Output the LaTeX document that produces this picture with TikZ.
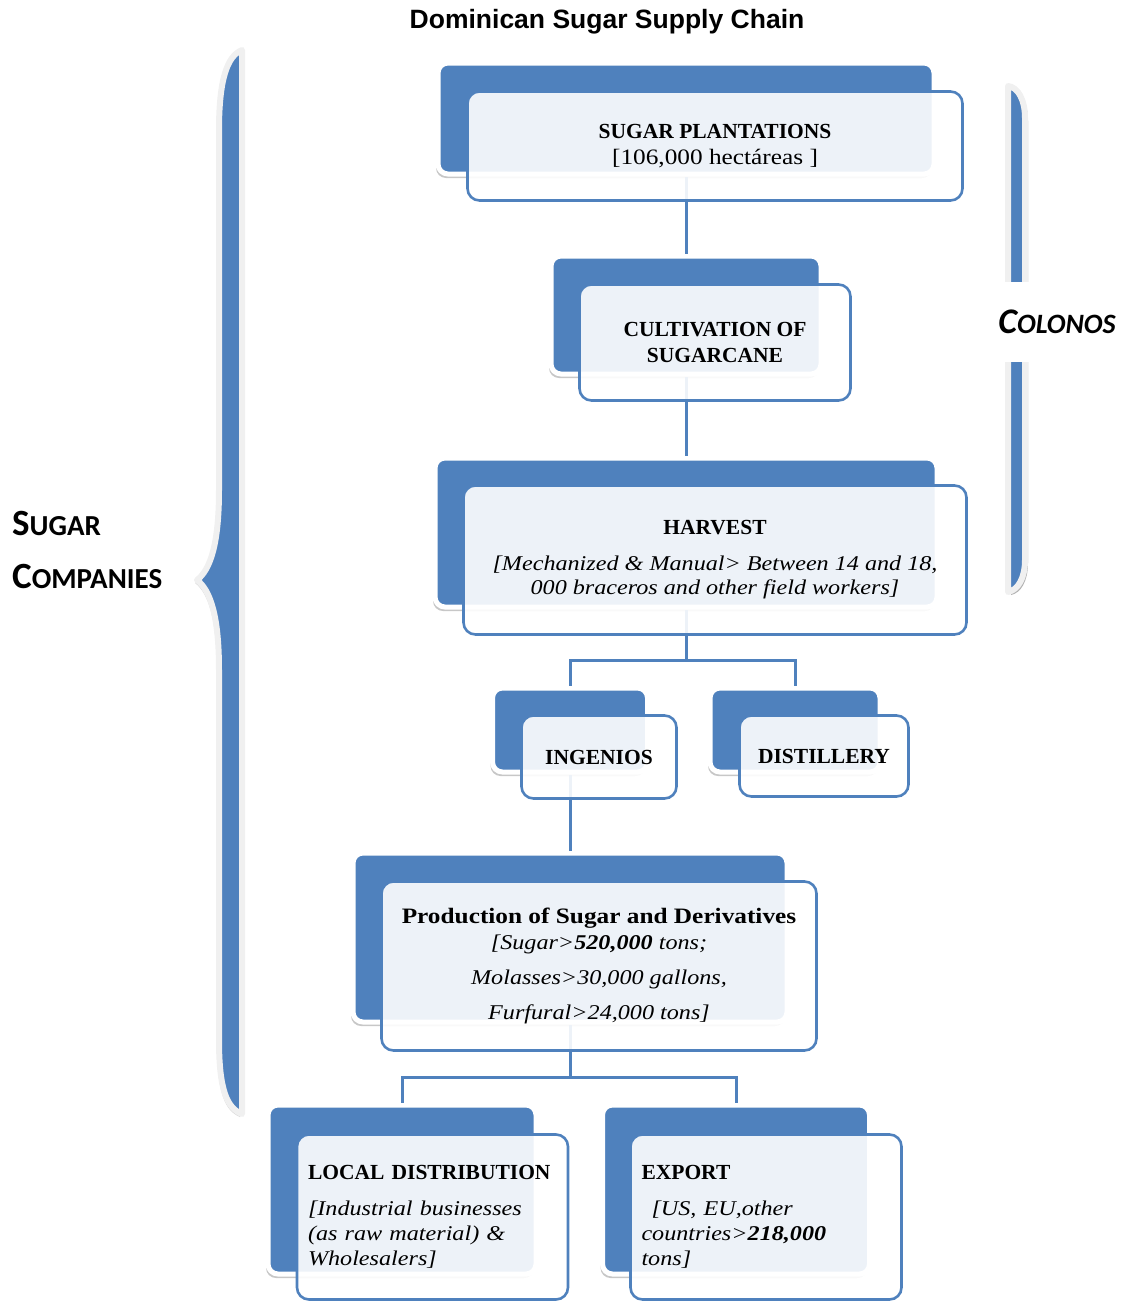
\documentclass[tikz,border=0pt]{standalone}
\usepackage{fontspec}
\setmainfont{Liberation Serif}
\newfontfamily\widefont{Liberation Serif}[FakeStretch=1.15]
\newfontfamily\calfont{Carlito}
\newfontfamily\headfont{Liberation Sans}
\usetikzlibrary{shadows}
\definecolor{ofblue}{HTML}{4F81BD}
\definecolor{rimgray}{HTML}{F0F0F0}
\newcommand\itw{\widefont\itshape\fontsize{21}{25}\selectfont}
\newcommand\rgw{\widefont\fontsize{22}{25}\selectfont}
\begin{document}
\begin{tikzpicture}[x=1pt,y=-1pt,
  backbox/.style={fill=ofblue, draw=white, line width=5pt, rounded corners=10pt,
    drop shadow={shadow xshift=-2pt, shadow yshift=-4pt, fill=black, opacity=0.22}},
  frontbox/.style={fill=white, fill opacity=0.9, text opacity=1, draw=ofblue,
    line width=2.6pt, rounded corners=12pt, align=center, inner sep=0pt,
    font=\fontsize{21.5}{25}\selectfont},
  link/.style={draw=ofblue, line width=3pt},
  brace/.style={fill=ofblue, draw=rimgray, line width=6pt, line join=round}
]
\useasboundingbox (0,0) rectangle (1124,1304);

% title
\node[font=\headfont\bfseries\fontsize{26.5}{30}\selectfont] (title) at (607,22) {Dominican Sugar Supply Chain};

% left brace (sugar companies)
\path[brace, drop shadow={shadow xshift=-2pt, shadow yshift=-3pt, fill=black, opacity=0.15}]
  (242,50) .. controls (227,56) and (219,80) .. (219,130) -- (219,490)
  .. controls (219,545) and (210,570) .. (197,580)
  .. controls (210,590) and (219,615) .. (219,670) -- (219,1040)
  .. controls (219,1090) and (227,1108) .. (242,1114) -- cycle;

% right bracket (colonos)
\path[brace, drop shadow={shadow xshift=3pt, shadow yshift=-3pt, fill=black, opacity=0.3}]
  (1008,86) .. controls (1018,87) and (1025,100) .. (1025,118) -- (1025,560)
  .. controls (1025,578) and (1018,590) .. (1008,592) -- cycle;

\node[fill=white, minimum height=80pt, inner xsep=4pt,
  font=\calfont\bfseries\itshape\fontsize{28}{30}\selectfont] (colonos) at (1057,322)
  {{\fontsize{36}{30}\selectfont C}OLONOS};

\node[anchor=west, align=left, inner sep=0pt,
  font=\calfont\bfseries\fontsize{29}{53}\selectfont] (companies) at (12,550)
  {{\fontsize{37}{53}\selectfont S}UGAR\\{\fontsize{37}{53}\selectfont C}OMPANIES};

% back boxes
\node[backbox, minimum width=496pt, minimum height=111pt] (b1) at (686,118.5) {};
\node[backbox, minimum width=270pt, minimum height=118pt] (b2) at (686,315) {};
\node[backbox, minimum width=502pt, minimum height=149pt] (b3) at (686,532.5) {};
\node[backbox, minimum width=155pt, minimum height=84pt] (b4) at (570,730) {};
\node[backbox, minimum width=170pt, minimum height=84pt] (b5) at (795,730) {};
\node[backbox, minimum width=434pt, minimum height=169pt] (b6) at (570,937.5) {};
\node[backbox, minimum width=268pt, minimum height=169pt] (b7) at (402,1189.5) {};
\node[backbox, minimum width=267pt, minimum height=169pt] (b8) at (736,1189.5) {};

% connectors
\coordinate (j1) at (686,660);
\coordinate (j2) at (570,1077);
\draw[link] (b1.south) -- (b2.north);
\draw[link] (b2.south) -- (b3.north);
\draw[link] (b3.south) -- (j1);
\draw[link] (j1) -| (b4.north);
\draw[link] (j1) -| (b5.north);
\draw[link] (b4.south) -- (b6.north);
\draw[link] (b6.south) -- (j2);
\draw[link] (j2) -| (b7.north);
\draw[link] (j2) -| (b8.north);

% front boxes
\node[frontbox, minimum width=495pt, minimum height=109pt] (f1) at (715,146)
  {{\bfseries SUGAR PLANTATIONS}\\[1pt]{\rgw [106,000 hectáreas ]}};
\node[frontbox, minimum width=271pt, minimum height=116pt] (f2) at (715,342.5)
  {{\bfseries CULTIVATION OF}\\[1pt]{\bfseries SUGARCANE}};
\node[frontbox, minimum width=503pt, minimum height=149pt] (f3) at (715,560)
  {{\bfseries HARVEST}\\[11pt]{\itw [Mechanized \& Manual> Between 14 and 18,}\\[-1pt]{\itw 000 braceros and other field workers]}};
\node[frontbox, minimum width=155pt, minimum height=83pt] (f4) at (599,757)
  {{\bfseries INGENIOS}};
\node[frontbox, minimum width=169pt, minimum height=81pt] (f5) at (824,756)
  {{\bfseries DISTILLERY}};
\node[frontbox, minimum width=435pt, minimum height=169pt] (f6) at (599,966)
  {{\widefont\bfseries\fontsize{22}{25}\selectfont Production of Sugar and Derivatives}\\[1pt]
   {\itw [Sugar>\textbf{520,000} tons;}\\[10pt]
   {\itw Molasses>30,000 gallons,}\\[10pt]
   {\itw Furfural>24,000 tons]}};
\node[frontbox, align=left, text width=249pt, inner xsep=11pt, minimum height=165pt] (f7) at (432.5,1217)
  {{\bfseries LOCAL DISTRIBUTION}\\[11pt]
   {\itw [Industrial businesses}\\
   {\itw (as raw material) \&}\\
   {\itw Wholesalers]}};
\node[frontbox, align=left, text width=249pt, inner xsep=11pt, minimum height=165pt] (f8) at (766,1217)
  {{\bfseries EXPORT}\\[11pt]
   \hspace*{10pt}{\itw [US, EU,other}\\
   {\itw countries>\textbf{218,000}}\\
   {\itw tons]}};
\end{tikzpicture}
\end{document}
